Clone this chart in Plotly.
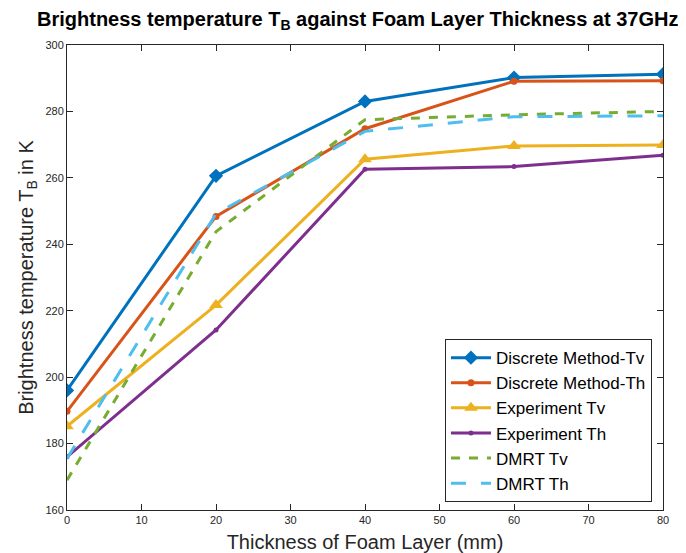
import plotly.graph_objects as go

thickness = [0, 20, 40, 60, 80]
discrete_tv = [196.0, 260.6, 283.0, 290.2, 291.2]
discrete_th = [189.7, 248.4, 274.8, 289.1, 289.2]
experiment_tv = [185.2, 221.7, 265.6, 269.6, 269.9]
experiment_th = [176.0, 214.2, 262.6, 263.4, 266.8]
dmrt_tv = [169.0, 243.8, 277.5, 279.0, 280.0]
dmrt_th = [175.5, 249.2, 274.0, 278.4, 278.7]

x_ticks = [0, 10, 20, 30, 40, 50, 60, 70, 80]
y_ticks = [160, 180, 200, 220, 240, 260, 280, 300]

series = [
    ("Discrete Method-Tv", discrete_tv, "#0072BD", "solid", "diamond", 11),
    ("Discrete Method-Th", discrete_th, "#D95319", "solid", "circle", 7),
    ("Experiment Tv", experiment_tv, "#EDB120", "solid", "triangle-up", 12),
    ("Experiment Th", experiment_th, "#7E2F8E", "solid", "circle", 5),
    ("DMRT Tv", dmrt_tv, "#77AC30", "dash", None, 0),
    ("DMRT Th", dmrt_th, "#4DBEEE", "longdash", None, 0),
]

fig = go.Figure()
for name, ys, color, dash, sym, size in series:
    mode = "lines+markers" if sym else "lines"
    kw = {}
    if sym:
        kw["marker"] = dict(symbol=sym, size=size, color=color)
    fig.add_trace(go.Scatter(
        x=thickness, y=ys, name=name, mode=mode,
        line=dict(color=color, width=3, dash=dash), **kw))

axis_common = dict(
    showgrid=False, zeroline=False, showline=True, mirror="ticks",
    linecolor="#262626", linewidth=1, ticks="inside", ticklen=6,
    tickcolor="#262626", tickfont=dict(size=11, color="#262626"),
    automargin=False,
)

fig.update_layout(
    width=670, height=545,
    margin=dict(l=59, r=15, t=37, b=43),
    paper_bgcolor="white", plot_bgcolor="white",
    font=dict(family="Liberation Sans, Arial, sans-serif", color="#262626"),
    title=dict(
        text="<b>Brightness temperature T<sub>B</sub> against Foam Layer Thickness at 37GHz</b>",
        xref="container", x=0.522, xanchor="center",
        yref="container", y=0.993, yanchor="top",
        font=dict(size=20, color="black"),
    ),
    xaxis=dict(range=[0, 80], tickvals=x_ticks,
               title=dict(text="Thickness of Foam Layer (mm)", font=dict(size=20), standoff=14),
               **axis_common),
    yaxis=dict(range=[160, 300], tickvals=y_ticks,
               title=dict(text="Brightness temperature T<sub>B</sub> in K", font=dict(size=20), standoff=6),
               **axis_common),
    legend=dict(
        x=0.9815, y=0.017, xanchor="right", yanchor="bottom",
        bgcolor="white", bordercolor="#262626", borderwidth=1,
        font=dict(size=17, color="black"),
        itemwidth=40, tracegroupgap=0,
    ),
    showlegend=True,
)

fig.write_html("out.html")
